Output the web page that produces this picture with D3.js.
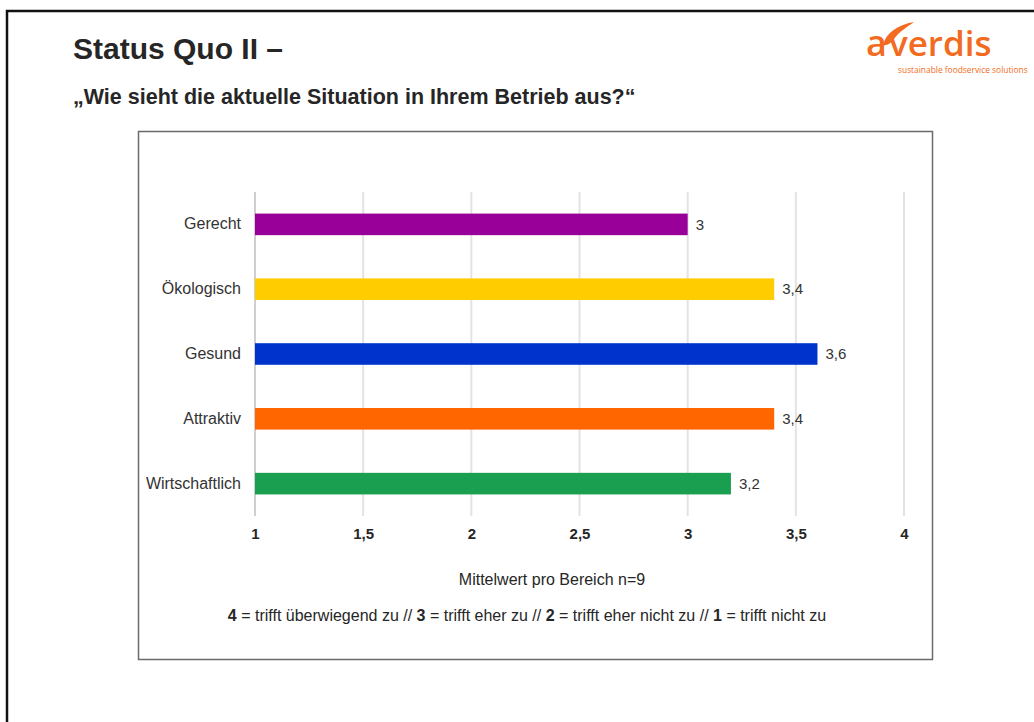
<!DOCTYPE html>
<html>
<head>
<meta charset="utf-8">
<script src="https://cdn.jsdelivr.net/npm/d3@7"></script>
<style>
  html, body { margin: 0; padding: 0; background: #ffffff; }
  svg { display: block; }
  text { font-family: "Liberation Sans", Arial, sans-serif; }
</style>
</head>
<body>
<svg id="slide" width="1034" height="722"></svg>
<script>
// Mean score per area (n = 9), scale 1..4
const categories = ["Gerecht", "Ökologisch", "Gesund", "Attraktiv", "Wirtschaftlich"];
const values = [3, 3.4, 3.6, 3.4, 3.2];
const barColors = ["#990099", "#ffcc00", "#0033cc", "#ff6600", "#1a9e50"];
const tickValues = [1, 1.5, 2, 2.5, 3, 3.5, 4];
const tickLabels = ["1", "1,5", "2", "2,5", "3", "3,5", "4"];

const title = "Status Quo II –";
const subtitle = "„Wie sieht die aktuelle Situation in Ihrem Betrieb aus?“";
const axisTitle = "Mittelwert pro Bereich n=9";
const scaleKey = [
  { n: "4", t: " = trifft überwiegend zu // " },
  { n: "3", t: " = trifft eher zu // " },
  { n: "2", t: " = trifft eher nicht zu // " },
  { n: "1", t: " = trifft nicht zu" }
];

const fmt = v => String(v).replace(".", ",");
const svg = d3.select("#slide");

// slide frame
svg.append("path")
  .attr("d", "M7,722 V11 H1034")
  .attr("fill", "none").attr("stroke", "#111").attr("stroke-width", 2.5);

// headline
svg.append("text").attr("x", 73).attr("y", 59)
  .attr("font-size", 30).attr("font-weight", "bold").attr("fill", "#262626")
  .text(title);
svg.append("text").attr("x", 73).attr("y", 104)
  .attr("font-size", 21.5).attr("font-weight", "bold").attr("fill", "#262626")
  .text(subtitle);

// brand mark
const logo = svg.append("g").attr("fill", "#f26b21");
logo.append("text").attr("x", 866).attr("y", 56)
  .style("font-family", "'Open Sans', sans-serif").attr("font-size", 36)
  .attr("font-weight", 600)
  .text("a");
logo.append("path")
  .attr("d", "M883,45 C886,33 897,25 914,22 C907,27 899,32 894,39 C891,43 887,46 883,45 Z");
logo.append("text").attr("x", 889).attr("y", 56)
  .style("font-family", "'Open Sans', sans-serif").attr("font-size", 35)
  .attr("font-weight", 600)
  .text("verdis");
logo.append("text").attr("x", 898).attr("y", 73)
  .style("font-family", "'Open Sans', sans-serif").attr("font-size", 8.4)
  .text("sustainable foodservice solutions");

// chart panel
svg.append("rect")
  .attr("x", 138.5).attr("y", 131.5).attr("width", 794).attr("height", 528)
  .attr("fill", "#fff").attr("stroke", "#6b6b6b").attr("stroke-width", 1.5);

const x = d3.scaleLinear().domain([1, 4]).range([255, 904]);
const y = d3.scaleBand().domain(categories).range([192, 516])
  .paddingInner(0.667).paddingOuter(0.333);

// vertical gridlines
svg.append("g").selectAll("line").data(tickValues).join("line")
  .attr("x1", d => x(d)).attr("x2", d => x(d))
  .attr("y1", 192).attr("y2", 516)
  .attr("stroke", (d, i) => i === 0 ? "#cfcfcf" : "#e3e3e3")
  .attr("stroke-width", 2);

// x tick labels
const xAxis = d3.axisBottom(x).tickValues(tickValues)
  .tickFormat((d, i) => tickLabels[i]).tickSize(0).tickPadding(0);
const gx = svg.append("g").attr("transform", "translate(0,528)").call(xAxis);
gx.select(".domain").remove();
gx.selectAll("text")
  .attr("font-family", "'Liberation Sans', Arial, sans-serif")
  .attr("font-size", 15).attr("font-weight", "bold").attr("fill", "#262626");

// category labels
const yAxis = d3.axisLeft(y).tickSize(0).tickPadding(0);
const gy = svg.append("g").attr("transform", "translate(241,0)").call(yAxis);
gy.select(".domain").remove();
gy.selectAll("text")
  .attr("font-family", "'Liberation Sans', Arial, sans-serif")
  .attr("font-size", 16).attr("fill", "#333");

// bars
const rows = categories.map((c, i) => ({ c, v: values[i], col: barColors[i] }));
svg.append("g").selectAll("rect").data(rows).join("rect")
  .attr("x", x(1)).attr("y", d => y(d.c))
  .attr("width", d => x(d.v) - x(1)).attr("height", y.bandwidth())
  .attr("fill", d => d.col);

// value labels
svg.append("g").selectAll("text").data(rows).join("text")
  .attr("x", d => x(d.v) + 8).attr("y", d => y(d.c) + y.bandwidth() / 2)
  .attr("dy", "0.35em").attr("font-size", 15).attr("fill", "#333")
  .text(d => fmt(d.v));

// axis title and scale key
svg.append("text").attr("x", 552).attr("y", 585).attr("text-anchor", "middle")
  .attr("font-size", 16).attr("fill", "#262626").text(axisTitle);

const key = svg.append("text").attr("x", 527).attr("y", 621)
  .attr("text-anchor", "middle").attr("font-size", 16).attr("fill", "#262626")
  .style("white-space", "pre");
scaleKey.forEach(k => {
  key.append("tspan").attr("font-weight", "bold").text(k.n);
  key.append("tspan").text(k.t);
});
</script>
</body>
</html>
